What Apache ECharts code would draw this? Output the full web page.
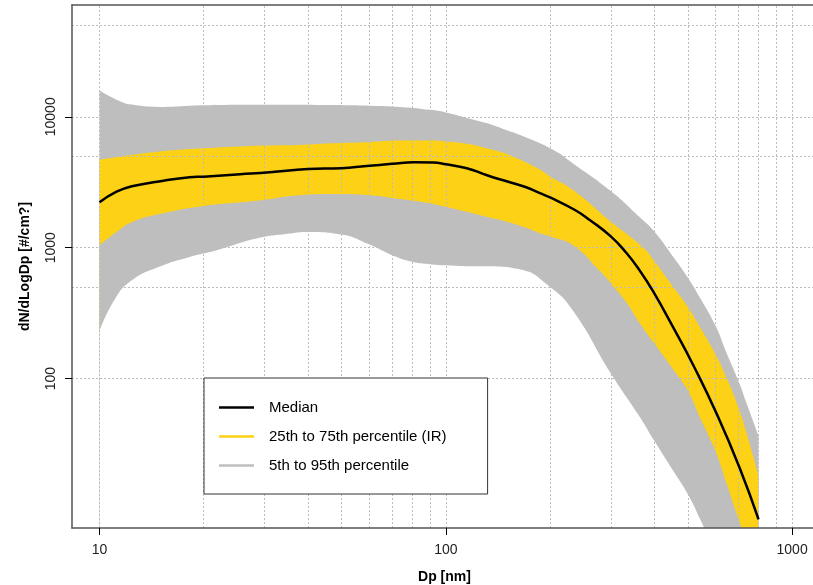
<!DOCTYPE html>
<html>
<head>
<meta charset="utf-8">
<script src="https://cdn.jsdelivr.net/npm/echarts@6/dist/echarts.min.js"></script>
<style>
  html, body { margin: 0; padding: 0; background: #ffffff; }
  #chart { width: 813px; height: 585px; }
</style>
</head>
<body>
<div id="chart"></div>
<script>
// Particle number size distribution dN/dlogDp against mobility diameter Dp (nm):
// median with the interquartile range and the 5th-95th percentile envelope.

const p95Dp = [10, 11.5, 12.4, 15, 20, 30, 45, 60, 75, 90, 100, 115, 131, 150, 164, 204, 233, 300, 364, 400, 454, 500, 542, 600, 648, 700, 740, 800];
const p95 = [15900, 13100, 12400, 11900, 12250, 12350, 12300, 12150, 11850, 11300, 10800, 9800, 8950, 7900, 7250, 5600, 4400, 2700, 1700, 1330, 850, 590, 415, 255, 155, 96, 64, 36.6];

const p75Dp = [10, 12.5, 16, 20, 30, 38, 47, 59, 75, 90, 100, 115, 131, 150, 164, 187, 200, 233, 300, 372, 400, 454, 500, 542, 600, 648, 700, 740, 800];
const p75 = [4680, 5120, 5520, 5750, 6030, 6100, 6280, 6400, 6580, 6580, 6470, 6210, 5750, 5200, 4700, 3950, 3500, 2760, 1580, 1000, 790, 500, 352, 247, 155, 100, 60, 37.7, 18.1];

const medDp = [10, 11.2, 12.5, 15.3, 18.2, 20, 25.5, 31, 40, 50, 59, 70, 81, 92, 100, 115, 131, 143, 169, 187, 200, 236, 261, 299, 332, 364, 397, 454, 518, 606, 707, 800];
const median = [2220, 2680, 2960, 3250, 3450, 3490, 3640, 3770, 3990, 4050, 4210, 4370, 4500, 4470, 4340, 4050, 3590, 3330, 2920, 2610, 2420, 1940, 1620, 1225, 914, 662, 463, 245, 127, 53.6, 20.5, 8.4];

const p25Dp = [10, 11.2, 12.5, 15.3, 20, 28.4, 38, 48, 60, 75, 92, 115, 131, 150, 169, 187, 200, 233, 279, 300, 329, 364, 400, 474, 500, 542, 600, 648, 700, 800];
const p25 = [1045, 1320, 1580, 1830, 2080, 2280, 2520, 2570, 2520, 2340, 2150, 1880, 1720, 1580, 1430, 1290, 1220, 1045, 660, 531, 396, 262, 185, 100, 81, 50.5, 28.1, 15.6, 8.5, 3.0];

const p05Dp = [10, 11.1, 12.4, 15, 18.2, 21.8, 28.4, 35.5, 40, 50, 60, 70, 80, 90, 100, 115, 131, 164, 200, 233, 300, 364, 400, 454, 500, 542, 600, 700, 800];
const p05 = [233, 408, 563, 720, 850, 957, 1177, 1285, 1320, 1260, 1060, 876, 780, 748, 733, 722, 720, 681, 501, 330, 109, 50.5, 33.5, 19.7, 13.1, 8.5, 4.6, 1.9, 0.9];

const xTicks = [10, 100, 1000];
const yTicks = [100, 1000, 10000];
const xGrid = [10, 20, 30, 40, 50, 60, 70, 80, 90, 100, 200, 300, 400, 500, 600, 700, 800, 900, 1000];
const yGrid = [100, 500, 1000, 5000, 10000, 50000];

const X_MIN = 8.329, X_MAX = 1149;
const Y_MIN = 7.22, Y_MAX = 71450;

const FONT = '"Liberation Sans", Arial, Helvetica, sans-serif';
const GREY = '#BEBEBE';
const GOLD = '#FCD116';

const NAME_MED = 'Median';
const NAME_IQR = '25th to 75th percentile (IR)';
const NAME_P90 = '5th to 95th percentile';

const pairs = (xs, ys) => xs.map((x, i) => [x, ys[i]]);

// Each envelope edge is an area filled down to the axis floor; painting them
// from the top edge downwards leaves the nested bands visible.
function edge(name, xs, ys, color) {
  return {
    name: name,
    type: 'line',
    data: pairs(xs, ys),
    smooth: 0.5,
    symbol: 'none',
    silent: true,
    clip: true,
    z: 2,
    lineStyle: { width: 0, color: color },
    itemStyle: { color: color },
    areaStyle: { color: color, opacity: 1, origin: 'start' },
    emphasis: { disabled: true }
  };
}

const gridLines = {
  silent: true,
  symbol: 'none',
  z: 3,
  animation: false,
  label: { show: false },
  emphasis: { disabled: true },
  lineStyle: { color: '#bdbdbd', type: [2, 2], width: 1 },
  data: xGrid.map(v => ({ xAxis: v })).concat(yGrid.map(v => ({ yAxis: v })))
};

const lowest = edge('5th percentile floor', p05Dp, p05, '#ffffff');
lowest.markLine = gridLines;

const chart = echarts.init(document.getElementById('chart'), null, { renderer: 'canvas' });

chart.setOption({
  animation: false,
  backgroundColor: '#ffffff',
  textStyle: { fontFamily: FONT },
  grid: { left: 72, top: 5, right: 0, height: 523, show: false, containLabel: false, outerBoundsMode: 'none' },
  legend: {
    data: [
      { name: NAME_MED, icon: 'path://M0 0H70V5H0Z', itemStyle: { color: '#000000' } },
      { name: NAME_IQR, icon: 'path://M0 0H70V5H0Z', itemStyle: { color: GOLD } },
      { name: NAME_P90, icon: 'path://M0 0H70V5H0Z', itemStyle: { color: GREY } }
    ],
    orient: 'vertical',
    left: 204,
    top: 378,
    padding: [22, 41, 21, 15],
    itemWidth: 35,
    itemHeight: 14,
    itemGap: 14,
    backgroundColor: '#ffffff',
    borderColor: '#333333',
    borderWidth: 1,
    borderRadius: 0,
    selectedMode: false,
    z: 20,
    textStyle: { fontFamily: FONT, fontSize: 15, color: '#000000', padding: [0, 0, 0, 10] }
  },
  xAxis: [
    {
      type: 'log',
      logBase: 10,
      min: X_MIN,
      max: X_MAX,
      z: 10,
      name: 'Dp [nm]',
      nameLocation: 'middle',
      nameGap: 42,
      nameTextStyle: { fontFamily: FONT, fontWeight: 'bold', fontSize: 14, color: '#000000', padding: [0, 0, 0, 4] },
      axisLine: { show: true, onZero: false, lineStyle: { color: '#555555', width: 1.5 } },
      axisTick: { show: true, customValues: xTicks, length: 7, lineStyle: { color: '#000000', width: 1 } },
      axisLabel: {
        customValues: xTicks, margin: 15, fontSize: 14, color: '#222222', fontFamily: FONT,
        formatter: v => String(Math.round(v))
      },
      splitLine: { show: false },
      minorTick: { show: false },
      minorSplitLine: { show: false }
    },
    {
      type: 'log',
      logBase: 10,
      position: 'top',
      min: X_MIN,
      max: X_MAX,
      z: 10,
      axisLine: { show: true, onZero: false, lineStyle: { color: '#555555', width: 1.5 } },
      axisTick: { show: false },
      axisLabel: { show: false },
      splitLine: { show: false }
    }
  ],
  yAxis: [
    {
      type: 'log',
      logBase: 10,
      min: Y_MIN,
      max: Y_MAX,
      z: 10,
      name: 'dN/dLogDp [#/cm?]',
      nameLocation: 'middle',
      nameGap: 40,
      nameRotate: 90,
      nameTextStyle: { fontFamily: FONT, fontWeight: 'bold', fontSize: 14, color: '#000000' },
      axisLine: { show: true, onZero: false, lineStyle: { color: '#555555', width: 1.5 } },
      axisTick: { show: true, customValues: yTicks, length: 7, lineStyle: { color: '#000000', width: 1 } },
      axisLabel: {
        customValues: yTicks, rotate: 90, margin: 14, fontSize: 14, color: '#222222', fontFamily: FONT,
        formatter: v => String(Math.round(v))
      },
      splitLine: { show: false },
      minorTick: { show: false },
      minorSplitLine: { show: false }
    }
  ],
  series: [
    edge(NAME_P90, p95Dp, p95, GREY),
    edge(NAME_IQR, p75Dp, p75, GOLD),
    edge('25th percentile floor', p25Dp, p25, GREY),
    lowest,
    {
      name: NAME_MED,
      type: 'line',
      data: pairs(medDp, median),
      smooth: 0.5,
      symbol: 'none',
      silent: true,
      clip: true,
      z: 4,
      lineStyle: { color: '#000000', width: 2.5 },
      itemStyle: { color: '#000000' },
      emphasis: { disabled: true }
    }
  ]
});
</script>
</body>
</html>
